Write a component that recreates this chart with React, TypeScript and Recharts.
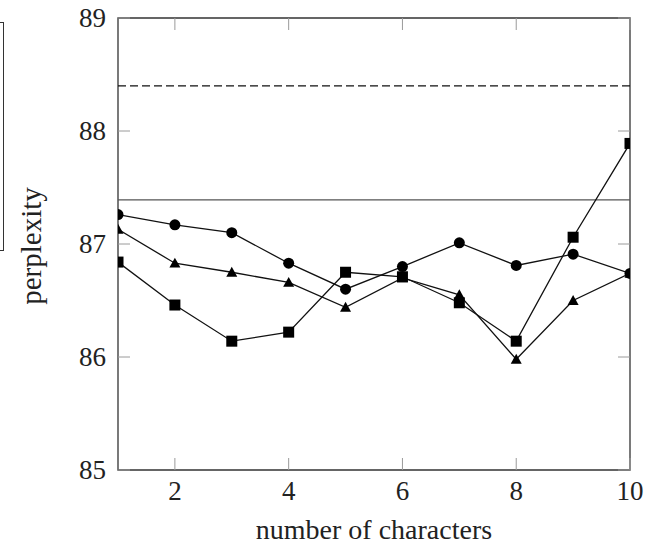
import { LineChart, Line, XAxis, YAxis, ReferenceLine, ReferenceArea } from 'recharts';

const numChars = [1, 2, 3, 4, 5, 6, 7, 8, 9, 10];
const circleSeries = [87.26, 87.17, 87.1, 86.83, 86.6, 86.8, 87.01, 86.81, 86.91, 86.74];
const triangleSeries = [87.13, 86.83, 86.75, 86.66, 86.44, 86.7, 86.55, 85.98, 86.5, 86.74];
const squareSeries = [86.84, 86.46, 86.14, 86.22, 86.75, 86.71, 86.48, 86.14, 87.06, 87.89];
const solidBaseline = 87.39;
const dashedBaseline = 88.4;
const xTicks = [2, 4, 6, 8, 10];
const yTicks = [85, 86, 87, 88, 89];

const data = numChars.map((n, i) => ({
  n,
  circle: circleSeries[i],
  triangle: triangleSeries[i],
  square: squareSeries[i],
}));

const W = 646;
const H = 545;
const PLOT_LEFT = 118;
const PLOT_RIGHT = 630;
const PLOT_TOP = 18;
const PLOT_BOTTOM = 470;
const FONT = '"Liberation Serif", "Times New Roman", serif';
const TICK_LEN = 12;
const TICK_COLOR = '#9a9a9a';

const CircleDot = (props: any) => {
  const { cx, cy } = props;
  if (cx == null || cy == null) return null;
  return <circle cx={cx} cy={cy} r={5.5} fill="#000" />;
};

const TriangleDot = (props: any) => {
  const { cx, cy } = props;
  if (cx == null || cy == null) return null;
  const s = 5.5;
  return <polygon points={`${cx},${cy - s} ${cx + s},${cy + s * 0.8} ${cx - s},${cy + s * 0.8}`} fill="#000" />;
};

const SquareDot = (props: any) => {
  const { cx, cy } = props;
  if (cx == null || cy == null) return null;
  const s = 5.5;
  return <rect x={cx - s} y={cy - s} width={s * 2} height={s * 2} fill="#000" />;
};

const XTick = (props: any) => {
  const { x, payload } = props;
  return (
    <g>
      <line x1={x} x2={x} y1={PLOT_BOTTOM} y2={PLOT_BOTTOM - TICK_LEN} stroke={TICK_COLOR} />
      <line x1={x} x2={x} y1={PLOT_TOP} y2={PLOT_TOP + TICK_LEN} stroke={TICK_COLOR} />
      <text x={x} y={491} textAnchor="middle" dominantBaseline="central" fontSize={27} fontFamily={FONT} fill="#222">
        {payload.value}
      </text>
    </g>
  );
};

const YTick = (props: any) => {
  const { y, payload } = props;
  return (
    <g>
      <line x1={PLOT_LEFT} x2={PLOT_LEFT + TICK_LEN} y1={y} y2={y} stroke={TICK_COLOR} />
      <line x1={PLOT_RIGHT} x2={PLOT_RIGHT - TICK_LEN} y1={y} y2={y} stroke={TICK_COLOR} />
      <text x={106} y={y} textAnchor="end" dominantBaseline="central" fontSize={27} fontFamily={FONT} fill="#222">
        {payload.value}
      </text>
    </g>
  );
};

const YLabel = () => (
  <text
    x={31}
    y={246}
    transform="rotate(-90 31 246)"
    textAnchor="middle"
    dominantBaseline="central"
    fontSize={29}
    fontFamily={FONT}
    fill="#222"
  >
    perplexity
  </text>
);

const XLabel = () => (
  <text x={374} y={529} textAnchor="middle" dominantBaseline="central" fontSize={28} fontFamily={FONT} fill="#222">
    number of characters
  </text>
);

export default function App() {
  return (
    <div style={{ position: 'absolute', left: 0, top: 0, width: W, height: H, overflow: 'hidden', background: '#fff' }}>
      <div
        style={{
          position: 'absolute',
          left: -100,
          top: 22,
          width: 102,
          height: 227,
          border: '1px solid #333',
        }}
      />
      <LineChart
        width={W}
        height={H}
        data={data}
        margin={{ top: PLOT_TOP, right: W - PLOT_RIGHT, bottom: 0, left: 38 }}
      >
        <XAxis
          dataKey="n"
          type="number"
          domain={[1, 10]}
          ticks={xTicks}
          axisLine={false}
          tickLine={false}
          tickSize={0}
          tickMargin={0}
          height={H - PLOT_BOTTOM}
          tick={<XTick />}
          label={<XLabel />}
          allowDataOverflow
        />
        <YAxis
          type="number"
          domain={[85, 89]}
          ticks={yTicks}
          axisLine={false}
          tickLine={false}
          tickSize={0}
          tickMargin={0}
          width={PLOT_LEFT - 38}
          tick={<YTick />}
          label={<YLabel />}
          allowDataOverflow
        />
        <ReferenceArea x1={1} x2={10} y1={85} y2={89} fill="none" stroke="#333" strokeWidth={1.3} ifOverflow="visible" />
        <ReferenceLine y={solidBaseline} stroke="#555" strokeWidth={1.2} />
        <ReferenceLine y={dashedBaseline} stroke="#111" strokeWidth={1.2} strokeDasharray="8 4" />
        <Line type="linear" dataKey="circle" stroke="#111" strokeWidth={1.3} dot={<CircleDot />} activeDot={false} isAnimationActive={false} />
        <Line type="linear" dataKey="triangle" stroke="#111" strokeWidth={1.3} dot={<TriangleDot />} activeDot={false} isAnimationActive={false} />
        <Line type="linear" dataKey="square" stroke="#111" strokeWidth={1.3} dot={<SquareDot />} activeDot={false} isAnimationActive={false} />
      </LineChart>
    </div>
  );
}
